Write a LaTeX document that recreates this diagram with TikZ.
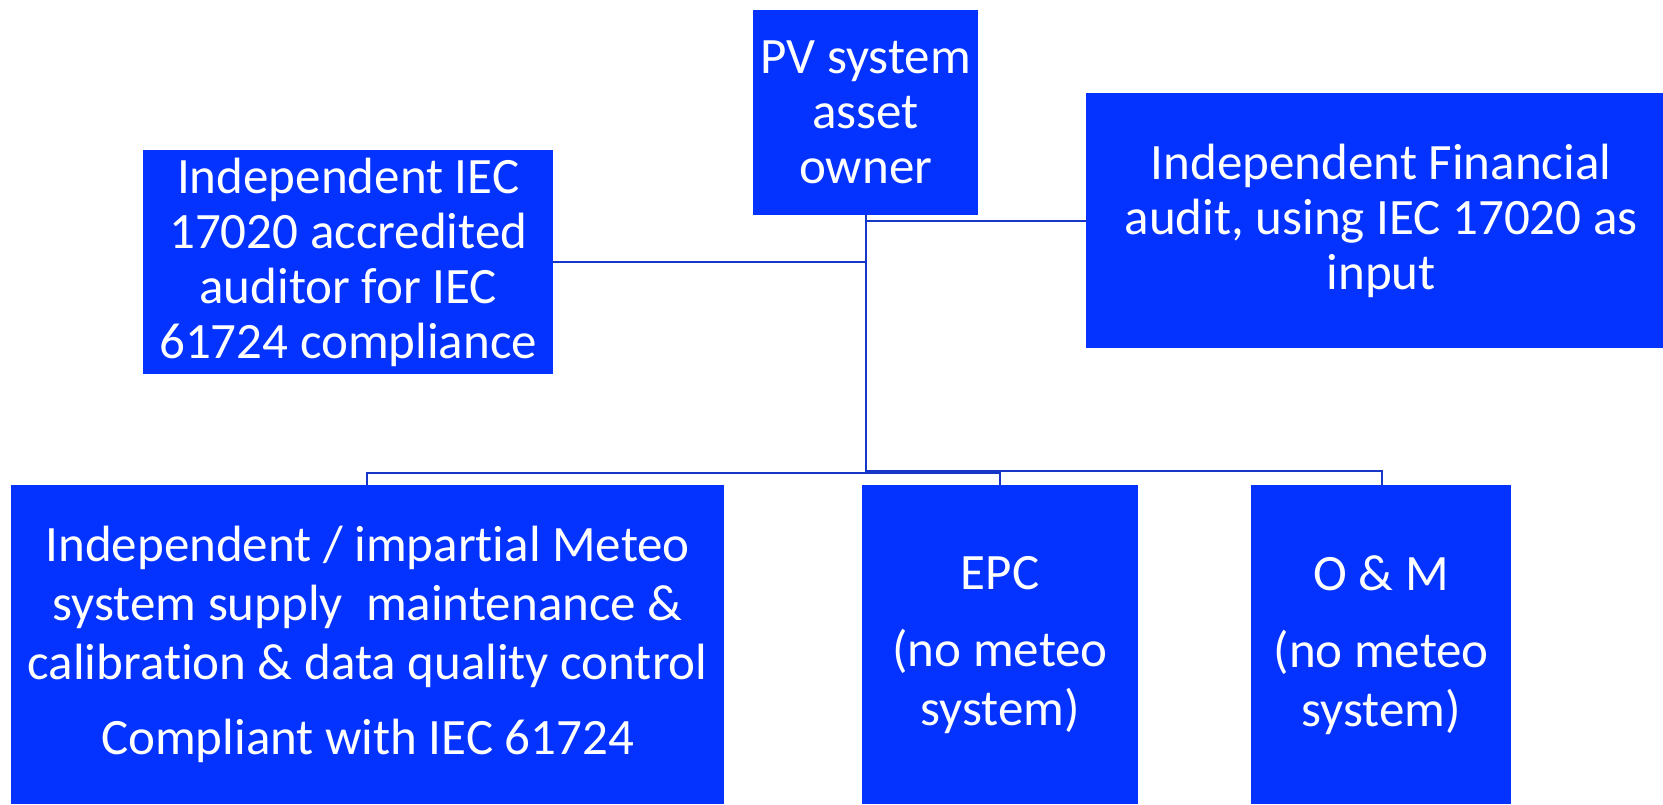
\documentclass[tikz,border=0pt]{standalone}
\usepackage{fontspec}
\setmainfont{Carlito}[Ligatures=NoCommon]
\definecolor{boxblue}{HTML}{0433FF}
\definecolor{lineblue}{HTML}{1537C8}
\begin{document}
\begin{tikzpicture}[x=1pt,y=-1pt,
  blk/.style={fill=boxblue, draw=none, text=white, align=center, anchor=north west, inner sep=0pt,
    font=\fontsize{51}{55}\selectfont},
  lowblk/.style={blk, font=\fontsize{51}{59}\selectfont},
  conn/.style={draw=lineblue, line width=2.2pt}]
\useasboundingbox (0,0) rectangle (1663,804);
\node[blk, minimum width=225, minimum height=205] (pv) at (753,10) {PV system\\asset\\owner};
\node[blk, minimum width=410, minimum height=224] (aud) at (143,150) {Independent IEC\\17020 accredited\\auditor for IEC\\61724 compliance};
\node[blk, minimum width=590, minimum height=255] (fin) at (1086,93) {Independent Financial\\audit, using IEC 17020 as\\input};
\node[lowblk, minimum width=713, minimum height=319] (met) at (11,485) {Independent / impartial Meteo\\system supply\ \ maintenance \&\\calibration \& data quality control\\[16pt]Compliant with IEC 61724};
\node[lowblk, minimum width=276, minimum height=319] (epc) at (862,485) {EPC\\[18pt](no meteo\\system)};
\node[lowblk, minimum width=260, minimum height=319] (om) at (1251,485) {O \& M\\[18pt](no meteo\\system)};
\coordinate (hub) at (866,473);
\draw[conn] (pv.south -| hub) -- (hub);
\draw[conn] (aud.east) -- (aud.east -| hub);
\draw[conn] (hub |- 0,221) -- (fin.west |- 0,221);
\draw[conn] (hub) -| (367,485);
\draw[conn] (hub) -| (1000,485);
\draw[conn] (866,471) -| (1382,485);
\end{tikzpicture}
\end{document}
